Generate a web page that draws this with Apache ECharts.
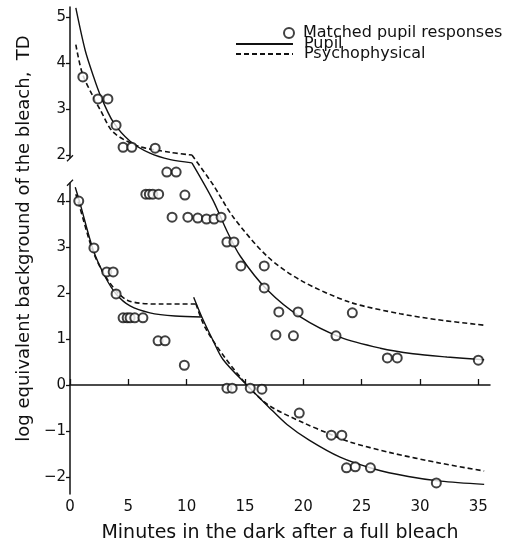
<!DOCTYPE html>
<html>
<head>
<meta charset="utf-8">
<script src="https://cdn.jsdelivr.net/npm/echarts@6/dist/echarts.min.js"></script>
<style>
html, body { margin: 0; padding: 0; background: #fff; }
#main { width: 514px; height: 546px; }
</style>
</head>
<body>
<div id="main"></div>
<script>
// tick labels
var xTicks = [0, 5, 10, 15, 20, 25, 30, 35];
var lowerTicks = [-2, -1, 0, 1, 2, 3, 4];
var upperTicks = [2, 3, 4, 5];
var upperOffset = 3; // upper scale is drawn 3 log units above the lower one

// matched pupil responses (values in lower-scale units)
var upperPoints = [
    [1.1, 6.7], [2.4, 6.22], [3.25, 6.22], [3.95, 5.65], [4.55, 5.17], [5.3, 5.17],
    [7.3, 5.15], [8.3, 4.63], [9.1, 4.63], [6.5, 4.15], [6.8, 4.15], [7.1, 4.15],
    [7.6, 4.15], [9.85, 4.13], [8.75, 3.65], [10.1, 3.65], [10.95, 3.63], [11.7, 3.61],
    [12.35, 3.61], [12.95, 3.65], [13.45, 3.11], [14.05, 3.11], [14.65, 2.59], [16.65, 2.59],
    [16.65, 2.11], [17.9, 1.59], [19.55, 1.59], [24.2, 1.57], [17.65, 1.09], [19.15, 1.07],
    [22.8, 1.07], [27.2, 0.59], [28.05, 0.59], [35.0, 0.54]
];
var lowerPoints = [
    [0.75, 4.0], [2.05, 2.98], [3.15, 2.46], [3.7, 2.46], [3.95, 1.98], [4.55, 1.46],
    [4.9, 1.46], [5.15, 1.46], [5.55, 1.46], [6.25, 1.46], [7.55, 0.96], [8.15, 0.96],
    [9.8, 0.43], [13.45, -0.07], [13.9, -0.07], [15.45, -0.07], [16.45, -0.09], [19.65, -0.61],
    [22.4, -1.09], [23.3, -1.09], [23.7, -1.8], [24.45, -1.78], [25.75, -1.8], [31.4, -2.13]
];

// pupil curves
var upperPupilA = [[0.5, 8.2], [1.3, 7.28], [2.0, 6.72], [2.6, 6.3], [3.7, 5.72], [5.15, 5.3], [6.85, 5.04], [8.6, 4.9], [10.45, 4.83]];
var upperPupilB = [[10.45, 4.83], [12.25, 4.02], [13.45, 3.35], [14.6, 2.8], [16.9, 2.07], [19.75, 1.48], [23.15, 1.04], [26.6, 0.8], [29.4, 0.68], [32.3, 0.61], [35.5, 0.55]];
var lowerPupilA = [[0.45, 4.3], [0.85, 3.96], [2.0, 2.93], [3.0, 2.36], [3.95, 1.98], [5.15, 1.72], [6.85, 1.57], [9.0, 1.5], [11.3, 1.48]];
var lowerPupilB = [[10.6, 1.91], [11.3, 1.48], [12.2, 1.0], [13.1, 0.56], [15.3, -0.04], [17.0, -0.47], [18.6, -0.86], [20.5, -1.2], [23.15, -1.57], [26.0, -1.82], [29.0, -1.99], [31.75, -2.09], [35.5, -2.16]];

// psychophysical curves
var upperPsychA = [[0.5, 7.4], [1.05, 6.78], [2.0, 6.26], [2.6, 5.98], [3.7, 5.5], [5.8, 5.2], [8.6, 5.06], [10.45, 5.0]];
var upperPsychB = [[10.45, 5.0], [12.25, 4.36], [14.0, 3.65], [16.9, 2.8], [19.75, 2.28], [24.0, 1.8], [28.3, 1.55], [31.5, 1.42], [35.5, 1.3]];
var lowerPsychA = [[0.5, 4.15], [0.8, 3.9], [2.0, 2.89], [3.25, 2.28], [4.95, 1.84], [7.9, 1.76], [10.8, 1.76]];
var lowerPsychB = [[10.8, 1.76], [11.6, 1.24], [13.3, 0.59], [15.45, -0.08], [17.15, -0.46], [20.0, -0.82], [22.3, -1.07], [24.0, -1.24], [27.45, -1.47], [31.75, -1.7], [35.5, -1.87]];

// where the y axis line is broken
var breakFrom = 4.4;
var breakTo = 4.93;

var yTicks = lowerTicks.concat(upperTicks.map(function (v) { return v + upperOffset; }));
var font = 'DejaVu Sans';

function curve(name, data, dashed) {
    return {
        name: name,
        type: 'line',
        data: data,
        symbol: 'none',
        smooth: 0.3,
        lineStyle: { color: '#111', width: dashed ? 1.6 : 1.4, type: dashed ? [5, 3] : 'solid' },
        itemStyle: { color: '#111' },
        z: 2
    };
}
function dots(data) {
    return {
        name: 'Matched pupil responses',
        type: 'scatter',
        data: data,
        symbol: 'emptyCircle',
        symbolSize: 9,
        itemStyle: { color: '#111', borderWidth: 1.6 },
        z: 3
    };
}

var myChart = echarts.init(document.getElementById('main'));
var option = {
    animation: false,
    backgroundColor: '#fff',
    grid: { left: 70, right: 24, top: 7, bottom: 52, outerBoundsMode: 'none' },
    legend: [{
        left: 283,
        top: 25,
        padding: 0,
        data: ['Matched pupil responses'],
        itemWidth: 10,
        itemHeight: 10,
        textStyle: { fontFamily: font, fontSize: 16, color: '#111', padding: [0, 0, 0, 4] }
    }, {
        left: 235,
        top: 36,
        padding: 0,
        orient: 'vertical',
        data: ['Pupil', 'Psychophysical'],
        itemWidth: 57,
        itemHeight: 10,
        itemGap: -6,
        itemStyle: { opacity: 0 },
        textStyle: { fontFamily: font, fontSize: 16, color: '#111', padding: [0, 0, 0, 6] }
    }],
    xAxis: {
        type: 'value',
        min: 0,
        max: 36,
        name: 'Minutes in the dark after a full bleach',
        nameLocation: 'middle',
        nameGap: 30,
        nameTextStyle: { fontFamily: font, fontSize: 19, color: '#111' },
        axisLine: { lineStyle: { color: '#111', width: 1.5 } },
        axisTick: { inside: true, length: 6, customValues: xTicks, lineStyle: { color: '#111', width: 1.3 } },
        axisLabel: { customValues: xTicks, margin: 6, fontFamily: font, fontSize: 15, color: '#111' },
        splitLine: { show: false }
    },
    yAxis: {
        type: 'value',
        min: -2.37,
        max: 8.22,
        name: 'log equivalent background of the bleach,  TD',
        nameLocation: 'middle',
        nameGap: 36,
        nameTextStyle: { fontFamily: font, fontSize: 18, color: '#111', padding: [0, 0, 0, 24] },
        axisLine: { lineStyle: { color: '#111', width: 1.5 } },
        axisTick: { inside: false, length: 4, customValues: yTicks, lineStyle: { color: '#111', width: 1.3 } },
        axisLabel: {
            customValues: yTicks,
            margin: 4,
            fontFamily: font,
            fontSize: 15,
            color: '#111',
            formatter: function (v) {
                var t = v > 4.5 ? v - upperOffset : v;
                return t < 0 ? '\u2212' + (-t) : String(t);
            }
        },
        splitLine: { show: false }
    },
    series: [
        dots(upperPoints),
        dots(lowerPoints),
        curve('Pupil', upperPupilA, false),
        curve('Pupil', upperPupilB, false),
        curve('Pupil', lowerPupilA, false),
        curve('Pupil', lowerPupilB, false),
        curve('Psychophysical', upperPsychA, true),
        curve('Psychophysical', upperPsychB, true),
        curve('Psychophysical', lowerPsychA, true),
        curve('Psychophysical', lowerPsychB, true)
    ]
};
myChart.setOption(option);

// axis break marks
var pTop = myChart.convertToPixel({ gridIndex: 0 }, [0, breakTo]);
var pBot = myChart.convertToPixel({ gridIndex: 0 }, [0, breakFrom]);
myChart.setOption({
    graphic: [
        { type: 'rect', shape: { x: pTop[0] - 3, y: pTop[1], width: 6, height: pBot[1] - pTop[1] }, style: { fill: '#fff' }, z: 10 },
        { type: 'line', shape: { x1: pTop[0] - 3, y1: pTop[1] + 3, x2: pTop[0] + 3, y2: pTop[1] - 3 }, style: { stroke: '#111', lineWidth: 1.3 }, z: 11 },
        { type: 'line', shape: { x1: pBot[0] - 3, y1: pBot[1] + 3, x2: pBot[0] + 3, y2: pBot[1] - 3 }, style: { stroke: '#111', lineWidth: 1.3 }, z: 11 }
    ]
});
</script>
</body>
</html>
